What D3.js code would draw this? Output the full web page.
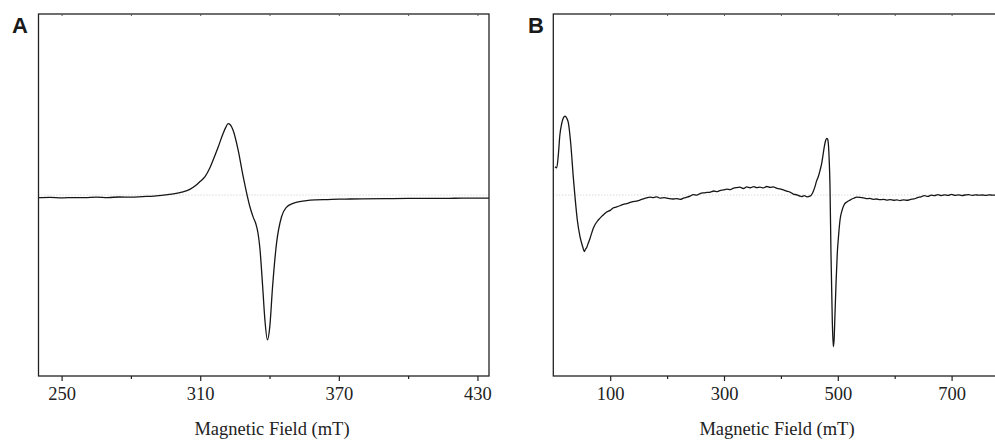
<!DOCTYPE html>
<html><head><meta charset="utf-8">
<script src="https://cdn.jsdelivr.net/npm/d3@7"></script>
<style>
html,body{margin:0;padding:0;background:#fff;}
svg{display:block;}
</style></head>
<body>
<svg id="chart" width="995" height="440"></svg>
<script>
// ---- Data ----
const panelLabels = ["A", "B"];
const axisTitle = "Magnetic Field (mT)";

const ticksA = [250, 310, 370, 430];
const minorTicksA = [280, 340, 400];
const ticksB = [100, 300, 500, 700];
const minorTicksB = [200, 400, 600];

const fieldA = [240,245,250,255,260,265,270,275,280,285,290,295,299,302,305.5,308,309.8,312,314.2,315.5,317.7,319.9,321,322.1,323,324.2,326.4,328.6,331.5,333,334.1,335,335.8,337,338,339.1,340.1,341.3,343,345.2,347.3,350.2,353,356,360,365,370,375,380,390,400,410,420,430,435];
const signalA = [-0.015,-0.013,-0.016,-0.014,-0.015,-0.012,-0.014,-0.011,-0.012,-0.009,-0.006,0.001,0.008,0.016,0.031,0.052,0.073,0.100,0.150,0.190,0.262,0.340,0.372,0.394,0.388,0.359,0.249,0.101,-0.065,-0.125,-0.160,-0.210,-0.290,-0.500,-0.690,-0.800,-0.730,-0.510,-0.270,-0.120,-0.068,-0.046,-0.037,-0.031,-0.027,-0.025,-0.023,-0.022,-0.021,-0.020,-0.019,-0.019,-0.018,-0.017,-0.017];

const fieldB = [3,6,8.8,11.5,14.8,17.6,20.6,23.5,26.4,30.6,35.1,38.1,42.2,46.9,51.7,54.5,56.5,58.7,61,64.5,67,70.3,74,79.1,85,90,93.8,100,105,111.4,118,123,129,135,140,146,152.4,158,164,170,176,182,187.5,195,202,210,216,222.7,230,235,240.3,246,252,258,264,269.6,276,282,288,294,298.8,305,311,317,322,328,334,340,346,352,357.5,363,369,375,381,386.6,392,398,404.2,410,416,421.8,428,433,436.6,441,446,451.1,455.5,459.9,462.5,465.7,468.7,471.7,474,476.3,478.5,480.5,482,483.3,484.8,486.3,488,490.3,492.1,493.5,495.1,497,499.1,501.5,503.9,507,510.9,516,521.4,528,533,539,545,550,556,562.4,568,574,580,585.9,592,598,604,609.3,616,622,628,634,640,646,652,658,664,670,676,682,688,694,700,706,712,718,724,730,736,742,748,754,760,766,772,778];
const signalB = [0.156,0.150,0.22,0.33,0.395,0.425,0.436,0.425,0.400,0.286,0.10,-0.009,-0.138,-0.230,-0.286,-0.313,-0.300,-0.290,-0.270,-0.240,-0.215,-0.184,-0.160,-0.138,-0.118,-0.104,-0.094,-0.085,-0.072,-0.066,-0.058,-0.052,-0.047,-0.041,-0.036,-0.034,-0.028,-0.022,-0.016,-0.012,-0.014,-0.010,-0.017,-0.015,-0.019,-0.022,-0.020,-0.024,-0.016,-0.012,-0.006,0.002,-0.001,0.008,0.012,0.014,0.016,0.022,0.019,0.026,0.028,0.033,0.030,0.038,0.041,0.043,0.036,0.045,0.040,0.046,0.041,0.044,0.039,0.047,0.042,0.045,0.038,0.034,0.028,0.022,0.016,0.005,0.001,-0.006,-0.009,-0.004,-0.010,-0.006,0.010,0.046,0.075,0.101,0.135,0.175,0.22,0.267,0.30,0.313,0.31,0.286,0.20,0.046,-0.322,-0.691,-0.838,-0.80,-0.654,-0.48,-0.322,-0.22,-0.138,-0.09,-0.055,-0.038,-0.028,-0.018,-0.012,-0.013,-0.016,-0.020,-0.019,-0.024,-0.022,-0.026,-0.024,-0.028,-0.025,-0.029,-0.027,-0.031,-0.027,-0.029,-0.024,-0.022,-0.014,-0.010,-0.003,-0.008,-0.001,-0.004,0.002,-0.003,0.001,-0.002,0.003,-0.002,0.001,-0.003,0.000,0.002,-0.002,0.001,-0.001,0.000,-0.002,0.001,-0.001,0.000];

// ---- Layout ----
const svg = d3.select("#chart");
const plotTop = 14, plotBottom = 376;
const panels = [
  {label: panelLabels[0], field: fieldA, signal: signalA, domain: [240, 435], range: [38.5, 489],
   ticks: ticksA, minor: minorTicksA, labelX: 12, titleX: 272},
  {label: panelLabels[1], field: fieldB, signal: signalB, domain: [0, 800], range: [553.3, 1008.5],
   ticks: ticksB, minor: minorTicksB, labelX: 528, titleX: 777}
];

const y = d3.scaleLinear().domain([-1, 1]).range([plotBottom, plotTop]);

panels.forEach((p, i) => {
  const x = d3.scaleLinear().domain(p.domain).range(p.range);
  const g = svg.append("g");

  const clipId = "clip" + i;
  svg.append("clipPath").attr("id", clipId).append("rect")
    .attr("x", p.range[0]).attr("y", plotTop).attr("width", p.range[1] - p.range[0]).attr("height", plotBottom - plotTop);

  // zero reference dotted line
  g.append("line")
    .attr("x1", p.range[0]).attr("x2", p.range[1])
    .attr("y1", y(0)).attr("y2", y(0))
    .attr("stroke", "#c8c8c8").attr("stroke-width", 1).attr("stroke-dasharray", "1,2");

  // spectrum
  const pts = p.field.map((f, k) => [f, p.signal[k]]);
  g.append("path").datum(pts)
    .attr("clip-path", `url(#${clipId})`)
    .attr("fill", "none").attr("stroke", "#161616").attr("stroke-width", 1.3)
    .attr("stroke-linejoin", "round")
    .attr("d", d3.line().x(d => x(d[0])).y(d => y(d[1])).curve(d3.curveMonotoneX));

  // frame
  g.append("rect")
    .attr("x", p.range[0]).attr("y", plotTop)
    .attr("width", p.range[1] - p.range[0]).attr("height", plotBottom - plotTop)
    .attr("fill", "none").attr("stroke", "#222").attr("stroke-width", 1.3);

  // bottom axis major ticks with labels
  const ax = g.append("g").attr("transform", `translate(0,${plotBottom})`)
    .call(d3.axisBottom(x).tickValues(p.ticks).tickSize(5).tickPadding(6).tickFormat(d3.format("d")));
  ax.select(".domain").remove();
  ax.selectAll("line").attr("stroke", "#222").attr("stroke-width", 1.2);
  ax.selectAll("text")
    .attr("font-family", "'Liberation Serif', 'Times New Roman', serif")
    .attr("font-size", 18.5).attr("fill", "#222");

  // bottom minor ticks
  const axm = g.append("g").attr("transform", `translate(0,${plotBottom})`)
    .call(d3.axisBottom(x).tickValues(p.minor).tickSize(3).tickFormat(""));
  axm.select(".domain").remove();
  axm.selectAll("line").attr("stroke", "#222").attr("stroke-width", 1.2);

  // top small inward ticks
  const axt = g.append("g").attr("transform", `translate(0,${plotTop})`)
    .call(d3.axisTop(x).tickValues(p.ticks.concat(p.minor)).tickSize(-2).tickFormat(""));
  axt.select(".domain").remove();
  axt.selectAll("line").attr("stroke", "#555").attr("stroke-width", 1);

  // axis title
  g.append("text")
    .attr("x", p.titleX).attr("y", 435)
    .attr("text-anchor", "middle")
    .attr("font-family", "'Liberation Serif', 'Times New Roman', serif")
    .attr("font-size", 18.5).attr("fill", "#222")
    .text(axisTitle);

  // panel label
  g.append("text")
    .attr("x", p.labelX).attr("y", 33)
    .attr("font-family", "'Liberation Sans', Arial, sans-serif")
    .attr("font-weight", "bold").attr("font-size", 22).attr("fill", "#1a1a1a")
    .text(p.label);
});
</script>
</body></html>
